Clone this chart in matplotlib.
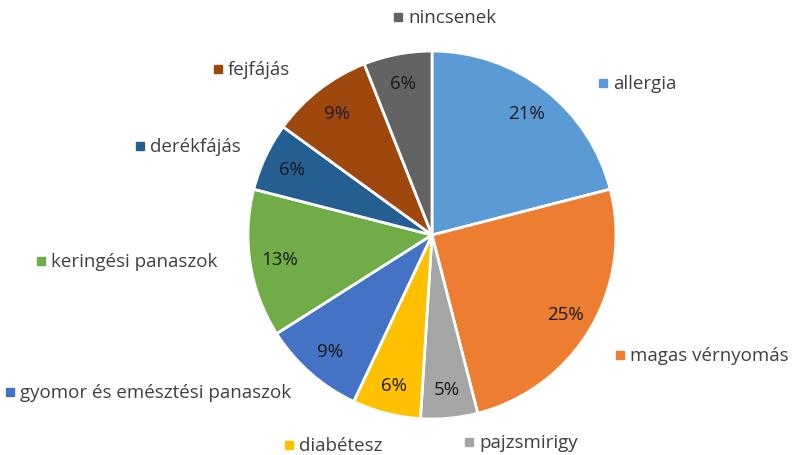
import matplotlib
matplotlib.use("Agg")
import matplotlib.pyplot as plt

categories = ["allergia", "magas vérnyomás", "pajzsmirigy", "diabétesz",
              "gyomor és emésztési panaszok", "keringési panaszok",
              "derékfájás", "fejfájás", "nincsenek"]
values = [21, 25, 5, 6, 9, 13, 6, 9, 6]
colors = ["#5B9BD5", "#ED7D31", "#A5A5A5", "#FFC000", "#4472C4",
          "#70AD47", "#255E91", "#9E480E", "#636363"]
# legend-label anchor positions (marker x, y in pixels from top)
label_pos = [(603, 84), (620, 356), (469, 443), (289, 446), (10, 393),
             (41, 262), (140, 147), (218, 70), (398, 18)]

W, H = 794, 456
fig = plt.figure(figsize=(W / 100, H / 100), dpi=100)
ax = fig.add_axes([0, 0, 1, 1])

cx, cy, r = 432, H - 236, 184
wedges, texts, autotexts = ax.pie(
    values, colors=colors, startangle=90, counterclock=False,
    center=(cx, cy), radius=r, autopct=lambda p: f"{p:.0f}%",
    pctdistance=0.84, frame=True,
    wedgeprops=dict(edgecolor="white", linewidth=2),
    textprops=dict(fontsize=13.5, color="#1a1a1a", family="Open Sans"))
ax.set_xlim(0, W)
ax.set_ylim(0, H)
ax.set_aspect("equal")
ax.axis("off")

for (x, y), name, c in zip(label_pos, categories, colors):
    ax.plot([x], [H - y], marker="s", markersize=5.5, color=c, linestyle="none")
    ax.text(x + 10, H - y, name, fontsize=13.5, color="#404040",
            family="Open Sans", va="center", ha="left")

fig.savefig("out.png", dpi=100)
